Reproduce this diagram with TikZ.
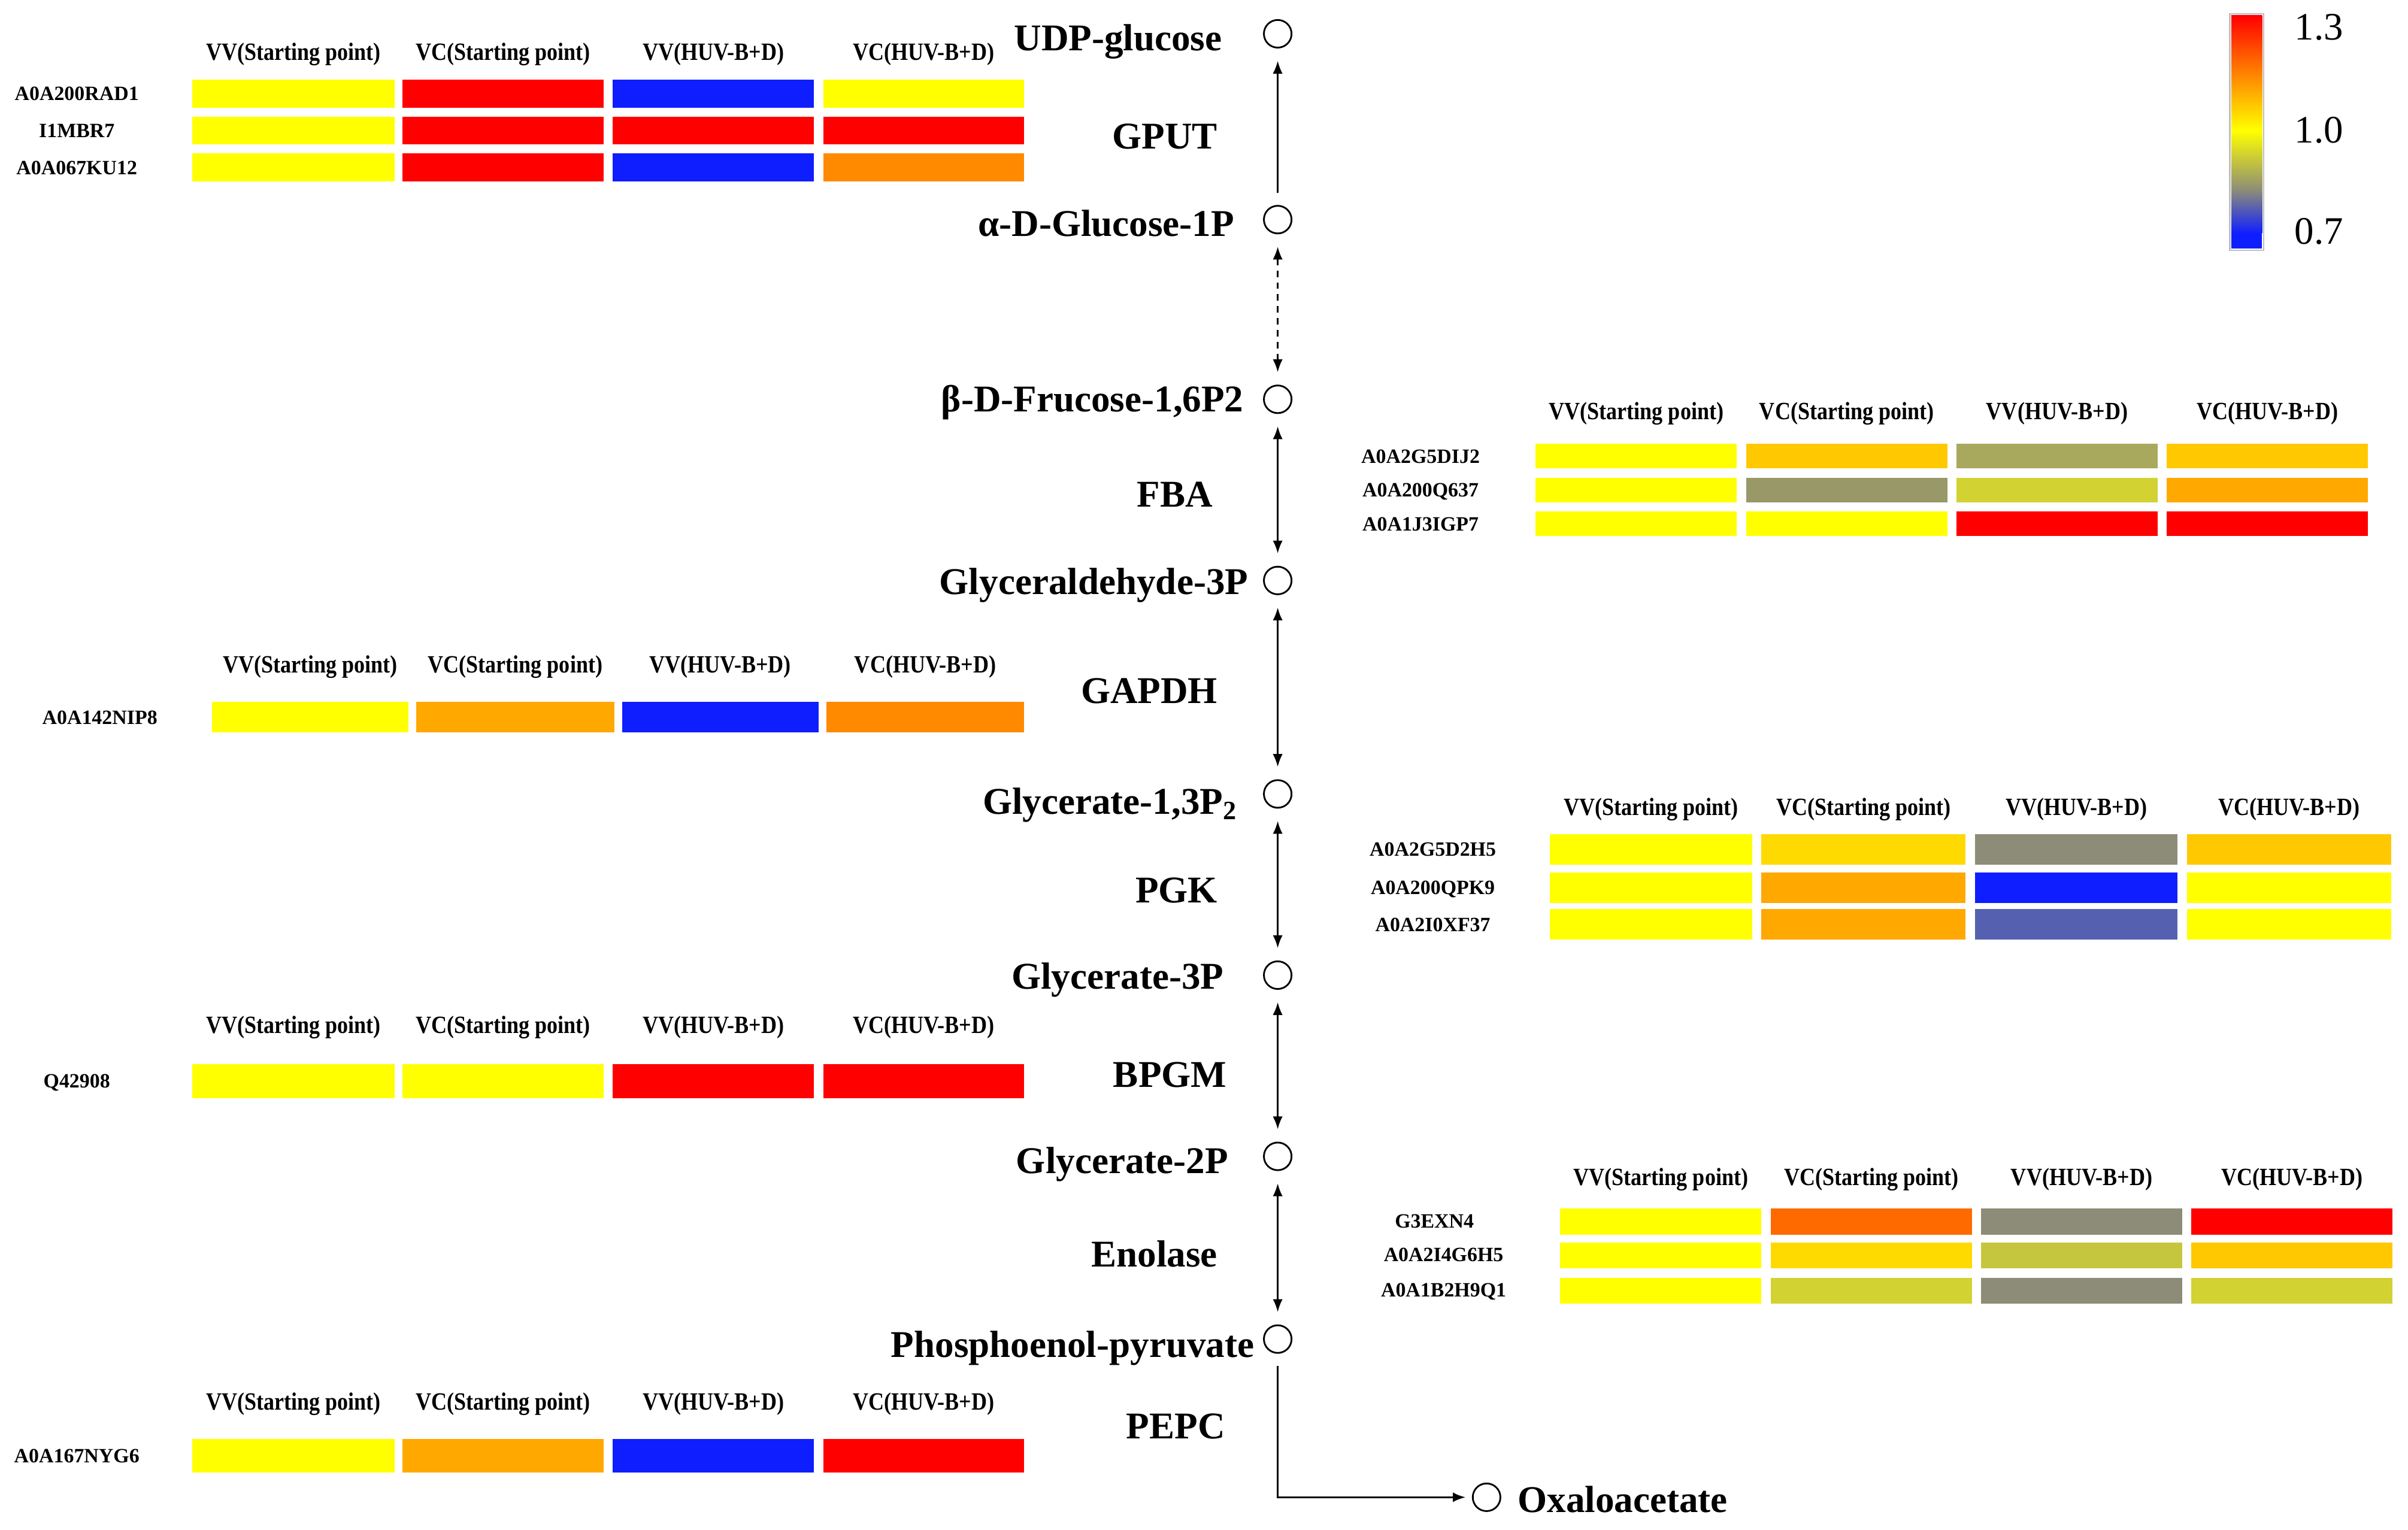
\documentclass[tikz,border=0pt]{standalone}
\usepackage{fontspec}
\setmainfont{Liberation Serif}
\usetikzlibrary{arrows.meta}

\definecolor{hmYel}{HTML}{FFFF00}
\definecolor{hmRed}{HTML}{FF0000}
\definecolor{hmBlu}{HTML}{0F1EFF}
\definecolor{hmOrg}{HTML}{FF8A00}
\definecolor{hmAmb}{HTML}{FFA800}
\definecolor{hmGold}{HTML}{FFC800}
\definecolor{hmGoldL}{HTML}{FFDA00}
\definecolor{hmOliv}{HTML}{A9A95E}
\definecolor{hmGrOl}{HTML}{989868}
\definecolor{hmLime}{HTML}{D2D232}
\definecolor{hmGray}{HTML}{8C8C78}
\definecolor{hmSlat}{HTML}{5561B0}
\definecolor{hmOrRd}{HTML}{FF6A00}
\definecolor{hmLiOl}{HTML}{C6C63E}

\tikzset{
  met/.style={font=\fontsize{17.5}{20}\selectfont\bfseries, anchor=base east, inner sep=0pt},
  enz/.style={met},
  hdr/.style={font=\fontsize{10}{12}\selectfont\bfseries, anchor=base, inner sep=0pt, yscale=1.15},
  gene/.style={font=\fontsize{9.4}{11}\selectfont\bfseries, anchor=base, inner sep=0pt},
  pt/.style={circle, draw, line width=0.8pt, minimum size=0.45cm, inner sep=0pt},
  rxn/.style={line width=0.8pt, shorten <=0.2cm, shorten >=0.2cm},
  barlab/.style={font=\fontsize{18}{20}\selectfont, anchor=base, inner sep=0pt}
}

\begin{document}
\begin{tikzpicture}[x=0.025cm, y=-0.025cm, >={Latex[length=0.21cm,width=0.16cm]}]
\useasboundingbox (0,0) rectangle (1568,996);

% Metabolites
\node[pt] (udp) at (832,22) {};
\node[pt] (g1p) at (832,143) {};
\node[pt] (fbp) at (832,260) {};
\node[pt] (g3p) at (832,378) {};
\node[pt] (bpg) at (832,517) {};
\node[pt] (pga3) at (832,635) {};
\node[pt] (pga2) at (832,753) {};
\node[pt] (pep) at (832,872) {};
\node[pt] (oaa) at (968,975) {};

\node[met] (udpL) at (796,33) {UDP-glucose};
\node[met] (g1pL) at (804,154) {α-D-Glucose-1P};
\node[met] (fbpL) at (810,268) {β-D-Frucose-1,6P2};
\node[met] (g3pL) at (813,387) {Glyceraldehyde-3P};
\node[met] (bpgL) at (806,530) {Glycerate-1,3P\textsubscript{2}};
\node[met] (pga3L) at (797,644) {Glycerate-3P};
\node[met] (pga2L) at (800,764) {Glycerate-2P};
\node[met] (pepL) at (817,884) {Phosphoenol-pyruvate};
\node[met, anchor=base west] (oaaL) at (988,985) {Oxaloacetate};

% Enzymes
\node[enz] (gput) at (793,97) {GPUT};
\node[enz] (fba) at (790,330) {FBA};
\node[enz] (gapdh) at (793,458) {GAPDH};
\node[enz] (pgk) at (793,588) {PGK};
\node[enz] (bpgm) at (799,708) {BPGM};
\node[enz] (enol) at (793,825) {Enolase};
\node[enz] (pepc) at (798,937) {PEPC};

% Reactions
\draw[rxn,->] (g1p) -- (udp);
\draw[rxn,<->,dash pattern=on 3pt off 2.5pt] (g1p) -- (fbp);
\draw[rxn,<->] (fbp) -- (g3p);
\draw[rxn,<->] (g3p) -- (bpg);
\draw[rxn,<->] (bpg) -- (pga3);
\draw[rxn,<->] (pga3) -- (pga2);
\draw[rxn,<->] (pga2) -- (pep);
\draw[rxn,->,line width=1pt,shorten >=0.1cm] (pep) |- (oaa);

% GPUT heatmap
\node[hdr] (gputH1) at (191,39) {VV(Starting point)};
\node[hdr] (gputH2) at (327.5,39) {VC(Starting point)};
\node[hdr] (gputH3) at (464.5,39) {VV(HUV-B+D)};
\node[hdr] (gputH4) at (601.5,39) {VC(HUV-B+D)};
\node[gene] (rad1) at (50,65.5) {A0A200RAD1};
\node[gene] (mbr7) at (50,89.5) {I1MBR7};
\node[gene] (ku12) at (50,113.5) {A0A067KU12};
\fill[hmYel] (125,52) rectangle (257,70); \fill[hmRed] (262,52) rectangle (393,70);
\fill[hmBlu] (399,52) rectangle (530,70); \fill[hmYel] (536,52) rectangle (667,70);
\fill[hmYel] (125,76) rectangle (257,94); \fill[hmRed] (262,76) rectangle (393,94);
\fill[hmRed] (399,76) rectangle (530,94); \fill[hmRed] (536,76) rectangle (667,94);
\fill[hmYel] (125,100) rectangle (257,118); \fill[hmRed] (262,100) rectangle (393,118);
\fill[hmBlu] (399,100) rectangle (530,118); \fill[hmOrg] (536,100) rectangle (667,118);

% FBA heatmap
\node[hdr] (fbaH1) at (1065.5,273) {VV(Starting point)};
\node[hdr] (fbaH2) at (1202.5,273) {VC(Starting point)};
\node[hdr] (fbaH3) at (1339.5,273) {VV(HUV-B+D)};
\node[hdr] (fbaH4) at (1476.5,273) {VC(HUV-B+D)};
\node[gene] (dij2) at (925,301.5) {A0A2G5DIJ2};
\node[gene] (q637) at (925,323.5) {A0A200Q637};
\node[gene] (igp7) at (925,345.5) {A0A1J3IGP7};
\fill[hmYel] (1000,289) rectangle (1131,305); \fill[hmGold] (1137,289) rectangle (1268,305);
\fill[hmOliv] (1274,289) rectangle (1405,305); \fill[hmGold] (1411,289) rectangle (1542,305);
\fill[hmYel] (1000,311) rectangle (1131,327); \fill[hmGrOl] (1137,311) rectangle (1268,327);
\fill[hmLime] (1274,311) rectangle (1405,327); \fill[hmAmb] (1411,311) rectangle (1542,327);
\fill[hmYel] (1000,333) rectangle (1131,349); \fill[hmYel] (1137,333) rectangle (1268,349);
\fill[hmRed] (1274,333) rectangle (1405,349); \fill[hmRed] (1411,333) rectangle (1542,349);

% GAPDH heatmap
\node[hdr] (gapH1) at (202,438) {VV(Starting point)};
\node[hdr] (gapH2) at (335.5,438) {VC(Starting point)};
\node[hdr] (gapH3) at (469,438) {VV(HUV-B+D)};
\node[hdr] (gapH4) at (602.5,438) {VC(HUV-B+D)};
\node[gene] (nip8) at (65,471.5) {A0A142NIP8};
\fill[hmYel] (138,457) rectangle (266,477); \fill[hmAmb] (271,457) rectangle (400,477);
\fill[hmBlu] (405,457) rectangle (533,477); \fill[hmOrg] (538,457) rectangle (667,477);

% PGK heatmap
\node[hdr] (pgkH1) at (1075,531) {VV(Starting point)};
\node[hdr] (pgkH2) at (1213.5,531) {VC(Starting point)};
\node[hdr] (pgkH3) at (1352,531) {VV(HUV-B+D)};
\node[hdr] (pgkH4) at (1490.5,531) {VC(HUV-B+D)};
\node[gene] (d2h5) at (933,557.5) {A0A2G5D2H5};
\node[gene] (qpk9) at (933,582.5) {A0A200QPK9};
\node[gene] (xf37) at (933,606.5) {A0A2I0XF37};
\fill[hmYel] (1009,543) rectangle (1141,563); \fill[hmGoldL] (1147,543) rectangle (1280,563);
\fill[hmGray] (1286,543) rectangle (1418,563); \fill[hmGold] (1424,543) rectangle (1557,563);
\fill[hmYel] (1009,568) rectangle (1141,588); \fill[hmAmb] (1147,568) rectangle (1280,588);
\fill[hmBlu] (1286,568) rectangle (1418,588); \fill[hmYel] (1424,568) rectangle (1557,588);
\fill[hmYel] (1009,592) rectangle (1141,612); \fill[hmAmb] (1147,592) rectangle (1280,612);
\fill[hmSlat] (1286,592) rectangle (1418,612); \fill[hmYel] (1424,592) rectangle (1557,612);

% BPGM heatmap
\node[hdr] (bpgmH1) at (191,673) {VV(Starting point)};
\node[hdr] (bpgmH2) at (327.5,673) {VC(Starting point)};
\node[hdr] (bpgmH3) at (464.5,673) {VV(HUV-B+D)};
\node[hdr] (bpgmH4) at (601.5,673) {VC(HUV-B+D)};
\node[gene] (q429) at (50,708.5) {Q42908};
\fill[hmYel] (125,693) rectangle (257,715); \fill[hmYel] (262,693) rectangle (393,715);
\fill[hmRed] (399,693) rectangle (530,715); \fill[hmRed] (536,693) rectangle (667,715);

% Enolase heatmap
\node[hdr] (enoH1) at (1081.5,772) {VV(Starting point)};
\node[hdr] (enoH2) at (1218.5,772) {VC(Starting point)};
\node[hdr] (enoH3) at (1355.5,772) {VV(HUV-B+D)};
\node[hdr] (enoH4) at (1492.5,772) {VC(HUV-B+D)};
\node[gene] (exn4) at (934,799.5) {G3EXN4};
\node[gene] (g6h5) at (940,821.5) {A0A2I4G6H5};
\node[gene] (h9q1) at (940,844.5) {A0A1B2H9Q1};
\fill[hmYel] (1016,787) rectangle (1147,804); \fill[hmOrRd] (1153,787) rectangle (1284,804);
\fill[hmGray] (1290,787) rectangle (1421,804); \fill[hmRed] (1427,787) rectangle (1558,804);
\fill[hmYel] (1016,809) rectangle (1147,826); \fill[hmGoldL] (1153,809) rectangle (1284,826);
\fill[hmLiOl] (1290,809) rectangle (1421,826); \fill[hmGold] (1427,809) rectangle (1558,826);
\fill[hmYel] (1016,832) rectangle (1147,849); \fill[hmLime] (1153,832) rectangle (1284,849);
\fill[hmGray] (1290,832) rectangle (1421,849); \fill[hmLime] (1427,832) rectangle (1558,849);

% PEPC heatmap
\node[hdr] (pepcH1) at (191,918) {VV(Starting point)};
\node[hdr] (pepcH2) at (327.5,918) {VC(Starting point)};
\node[hdr] (pepcH3) at (464.5,918) {VV(HUV-B+D)};
\node[hdr] (pepcH4) at (601.5,918) {VC(HUV-B+D)};
\node[gene] (nyg6) at (50,952.5) {A0A167NYG6};
\fill[hmYel] (125,937) rectangle (257,959); \fill[hmAmb] (262,937) rectangle (393,959);
\fill[hmBlu] (399,937) rectangle (530,959); \fill[hmRed] (536,937) rectangle (667,959);

% Colour bar
\shade[top color=hmRed, bottom color=hmOrg] (1453,10) rectangle (1473,50);
\shade[top color=hmOrg, bottom color=hmYel] (1453,50) rectangle (1473,85);
\shade[top color=hmYel, bottom color=hmGray] (1453,85) rectangle (1473,124);
\shade[top color=hmGray, bottom color=hmBlu] (1453,124) rectangle (1473,152);
\fill[hmBlu] (1453,152) rectangle (1473,162);
\draw[black!25, line width=0.6pt] (1452,9) rectangle (1474,163);
\node[barlab] (bar13) at (1510,26) {1.3};
\node[barlab] (bar10) at (1510,93) {1.0};
\node[barlab] (bar07) at (1510,159) {0.7};
\end{tikzpicture}
\end{document}
